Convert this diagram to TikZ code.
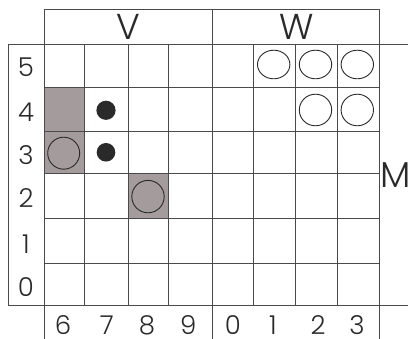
\documentclass[tikz,border=0pt]{standalone}
\usepackage{fontspec}
\setmainfont{Poppins Light}
\definecolor{gridc}{HTML}{4A4A4A}
\definecolor{shade}{HTML}{A39B9C}
\definecolor{ink}{HTML}{2A2A2A}
\tikzset{
  gline/.style={draw=gridc, line width=1pt},
  shadecell/.style={fill=shade},
  ring/.style={draw=ink, line width=0.9pt},
  dotmark/.style={fill=ink},
  numlab/.style={font=\fontsize{26}{26}\selectfont, text=ink, inner sep=0pt, anchor=base, text depth=0pt},
  biglab/.style={font=\fontsize{36}{36}\selectfont, text=ink, inner sep=0pt, anchor=base, text depth=0pt}
}
\begin{document}
\begin{tikzpicture}[x=1pt,y=-1pt]
\useasboundingbox (0,0) rectangle (408,339);
\fill[white] (0,0) rectangle (408,339);
% shaded cells
\fill[shadecell] (44.5,87.3) rectangle (84,174);
\fill[shadecell] (128.3,174) rectangle (168.3,219);
% header
\draw[gline] (44.5,9.5) -- (379.3,9.5);
\draw[gline] (8.5,44.5) -- (408,44.5);
\draw[gline] (8.5,306) -- (408,306);
\draw[gline] (8.5,44.5) -- (8.5,306);
\foreach \x in {44.5,212,379.3} \draw[gline] (\x,9.5) -- (\x,339);
\foreach \x in {84,128.3,168.3,253.3,295.7,337.3} \draw[gline] (\x,44.5) -- (\x,306);
\foreach \y in {87.3,131.7,174,219,264} \draw[gline] (44.5,\y) -- (379.3,\y);
% circles
\draw[ring] (273.7,64.5) ellipse[x radius=16.2, y radius=14.3];
\draw[ring] (315.5,64.5) ellipse[x radius=16.2, y radius=14.3];
\draw[ring] (357.3,64.5) ellipse[x radius=16.2, y radius=14.3];
\draw[ring] (315.5,110) ellipse[x radius=16.2, y radius=15.8];
\draw[ring] (357.3,110) ellipse[x radius=16.2, y radius=15.8];
\draw[ring] (63.7,153.2) circle[radius=16];
\draw[ring] (148,196.6) circle[radius=16.2];
% dots
\fill[dotmark] (106,110.3) circle[radius=9.6];
\fill[dotmark] (106,152.3) circle[radius=9.3];
% labels
\node[biglab] (lV) at (128.8,40) {V};
\node[biglab] (lW) at (296.7,40) {W};
\node[biglab, anchor=base west] (lM) at (380.5,188) {M};
\node[numlab] (r5) at (26,76.7) {5};
\node[numlab] (r4) at (26,122) {4};
\node[numlab] (r3) at (26,164.3) {3};
\node[numlab] (r2) at (26,207.8) {2};
\node[numlab] (r1) at (26,253.3) {1};
\node[numlab] (r0) at (26,296.5) {0};
\node[numlab] (c6) at (63,334.5) {6};
\node[numlab] (c7) at (106.7,334.5) {7};
\node[numlab] (c8) at (147,334.5) {8};
\node[numlab] (c9) at (188.3,334.5) {9};
\node[numlab] (c0) at (233,334.5) {0};
\node[numlab] (c1) at (273,334.5) {1};
\node[numlab] (c2) at (318,334.5) {2};
\node[numlab] (c3) at (357,334.5) {3};
\end{tikzpicture}
\end{document}
